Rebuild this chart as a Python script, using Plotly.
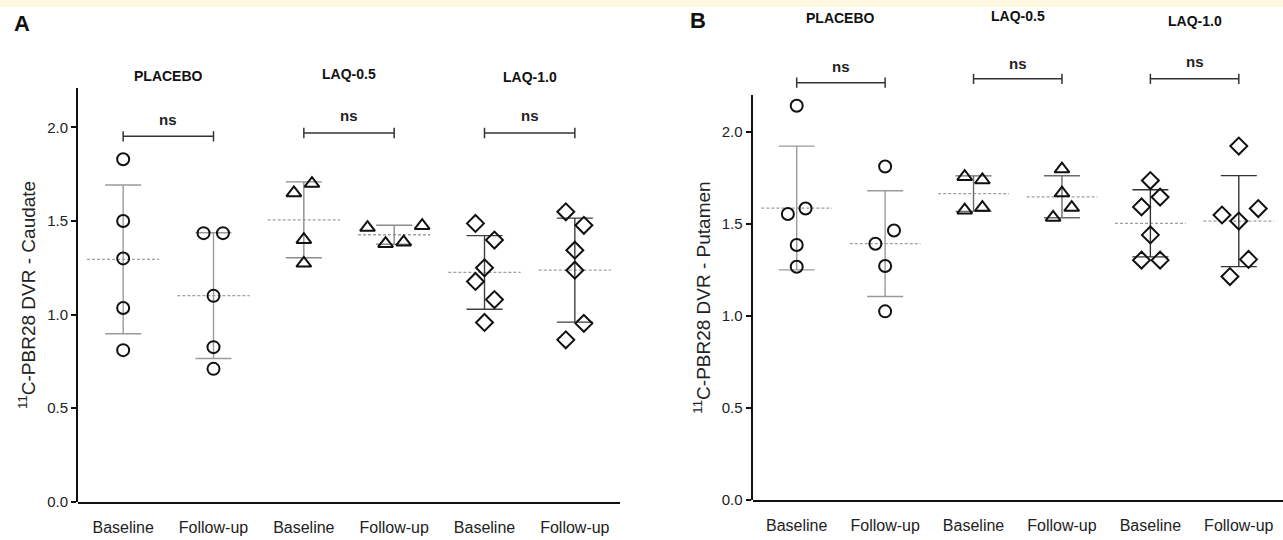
import plotly.graph_objects as go
import numpy as np

# ---------------- data ----------------
groups = ["PLACEBO", "LAQ-0.5", "LAQ-1.0"]
tick_labels = ["Baseline", "Follow-up", "Baseline", "Follow-up", "Baseline", "Follow-up"]
y_ticks = [0.0, 0.5, 1.0, 1.5, 2.0]

# Panel A: caudate DVR
caudate_placebo_baseline = [1.83, 1.50, 1.30, 1.035, 0.81]
caudate_placebo_followup = [1.435, 1.435, 1.10, 0.826, 0.71]
caudate_laq05_baseline = [1.65, 1.70, 1.40, 1.274]
caudate_laq05_followup = [1.465, 1.475, 1.379, 1.387]
caudate_laq10_baseline = [1.487, 1.398, 1.25, 1.177, 1.08, 0.958]
caudate_laq10_followup = [1.549, 1.477, 1.344, 1.237, 0.953, 0.865]

# Panel B: putamen DVR
putamen_placebo_baseline = [2.141, 1.553, 1.583, 1.385, 1.267]
putamen_placebo_followup = [1.811, 1.392, 1.464, 1.271, 1.025]
putamen_laq05_baseline = [1.756, 1.738, 1.574, 1.588]
putamen_laq05_followup = [1.797, 1.667, 1.588, 1.535]
putamen_laq10_baseline = [1.735, 1.645, 1.592, 1.44, 1.303, 1.303]
putamen_laq10_followup = [1.922, 1.583, 1.548, 1.515, 1.307, 1.214]

# ---------------- layout / style (positions kept separate) ----------------
caudate_sets = [caudate_placebo_baseline, caudate_placebo_followup,
                caudate_laq05_baseline, caudate_laq05_followup,
                caudate_laq10_baseline, caudate_laq10_followup]
putamen_sets = [putamen_placebo_baseline, putamen_placebo_followup,
                putamen_laq05_baseline, putamen_laq05_followup,
                putamen_laq10_baseline, putamen_laq10_followup]

jitter_A = [[0, 0, 0, 0, 0], [-0.11, 0.105, 0, 0, 0], [-0.11, 0.09, 0, 0],
            [-0.295, 0.31, -0.095, 0.105], [-0.1, 0.11, 0, -0.1, 0.11, 0],
            [-0.1, 0.1, 0, 0, 0.1, -0.1]]
jitter_B = [[0, -0.1, 0.1, 0, 0], [0, -0.11, 0.1, 0, 0], [-0.1, 0.1, -0.1, 0.1],
            [0, 0, 0.11, -0.1], [0, 0.11, -0.1, 0, -0.1, 0.11],
            [0, 0.22, -0.19, 0, 0.11, -0.1]]

symbols = ["circle-open", "circle-open", "triangle-up-open", "triangle-up-open",
           "diamond-open", "diamond-open"]
sizes = [12, 12, 13, 13, 13, 13]
bar_colors_A = ["#9a9a9a", "#9a9a9a", "#8c8c8c", "#8c8c8c", "#404040", "#404040"]
bar_colors_B = ["#9a9a9a", "#9a9a9a", "#6a6a6a", "#6a6a6a", "#333333", "#333333"]

W, H = 1283, 540
FONT = "Liberation Sans, Arial, sans-serif"

fig = go.Figure()


def add_panel(sets, jitter, bar_colors, xa, ya, spine_ax):
    # invisible trace so that the visible (spine) axis is drawn
    fig.add_trace(go.Scatter(
        x=[0] * len(y_ticks), y=y_ticks, mode="markers", marker=dict(size=1, opacity=0),
        xaxis=xa, yaxis=spine_ax, showlegend=False, hoverinfo="skip"))
    for i, vals in enumerate(sets):
        v = np.array(vals, dtype=float)
        m = v.mean()
        sd = v.std(ddof=1)
        # mean (dashed)
        fig.add_trace(go.Scatter(
            x=[i - 0.4, i + 0.4], y=[m, m], mode="lines",
            line=dict(color="#a0a0a0", width=1.3, dash="3px,2px"),
            xaxis=xa, yaxis=ya, showlegend=False, hoverinfo="skip"))
        # SD bar
        fig.add_trace(go.Scatter(
            x=[i], y=[m], mode="markers", marker=dict(size=1, opacity=0),
            error_y=dict(type="data", array=[sd], visible=True,
                         color=bar_colors[i], thickness=1.4, width=18),
            xaxis=xa, yaxis=ya, showlegend=False, hoverinfo="skip"))
    for i, vals in enumerate(sets):
        fig.add_trace(go.Scatter(
            x=[i + j for j in jitter[i]], y=vals, mode="markers",
            marker=dict(symbol=symbols[i], size=sizes[i], color="#111111",
                        line=dict(color="#111111", width=2)),
            xaxis=xa, yaxis=ya, showlegend=False))


add_panel(caudate_sets, jitter_A, bar_colors_A, "x", "y", "y3")
add_panel(putamen_sets, jitter_B, bar_colors_B, "x2", "y2", "y4")

# axis geometry (pixel-based domains)
A_x = [78 / W, 620 / W]
A_bot_px, A_ppu = 509.3, 190.0
A_rng = 2.45
A_spine = 2.21
A_y = [1 - A_bot_px / H, 1 - (A_bot_px - A_rng * A_ppu) / H]
A_y_spine = [A_y[0], 1 - (A_bot_px - A_spine * A_ppu) / H]

B_x = [752.5 / W, 1.0]
B_bot_px, B_ppu = 507.7, 187.0
B_rng = 2.65
B_spine = 2.20
B_y = [1 - B_bot_px / H, 1 - (B_bot_px - B_rng * B_ppu) / H]
B_y_spine = [B_y[0], 1 - (B_bot_px - B_spine * B_ppu) / H]

xcommon = dict(range=[-0.5, 5.5], tickvals=list(range(6)), ticktext=tick_labels,
               showline=True, linecolor="#111111", linewidth=2, ticks="outside",
               ticklen=10, tickcolor="rgba(0,0,0,0)", showgrid=False, zeroline=False,
               tickfont=dict(family=FONT, size=16, color="#222222"), fixedrange=True)
hidden_y = dict(visible=False, showgrid=False, zeroline=False, fixedrange=True)
spine_y = dict(showline=True, linecolor="#111111", linewidth=2, ticks="outside",
               ticklen=5, tickwidth=1.5, tickcolor="#111111", tickvals=y_ticks,
               tickformat=".1f", showgrid=False, zeroline=False,
               tickfont=dict(family=FONT, size=15, color="#222222"), fixedrange=True)

fig.update_layout(
    xaxis=dict(domain=A_x, anchor="y", **xcommon),
    yaxis=dict(domain=A_y, range=[0, A_rng], anchor="x", **hidden_y),
    xaxis2=dict(domain=B_x, anchor="y2", **xcommon),
    yaxis2=dict(domain=B_y, range=[0, B_rng], anchor="x2", **hidden_y),
    yaxis3=dict(domain=A_y_spine, range=[0, A_spine], anchor="x",
                title=dict(text="<sup>11</sup>C-PBR28 DVR - Caudate",
                           font=dict(family=FONT, size=19, color="#222222"), standoff=6),
                **spine_y),
    yaxis4=dict(domain=B_y_spine, range=[0, B_spine], anchor="x2",
                title=dict(text="<sup>11</sup>C-PBR28 DVR - Putamen",
                           font=dict(family=FONT, size=19, color="#222222"), standoff=6),
                **spine_y),
)

# significance brackets and group titles
bracket_A = [1.952, 1.970, 1.970]
ns_A = [1.985, 2.005, 2.008]
title_A = [2.277, 2.286, 2.270]
bracket_B = [2.266, 2.287, 2.287]
ns_B = [2.298, 2.315, 2.325]
title_B = [2.617, 2.626, 2.599]

shapes = []
annotations = []
for xa, ya, br, ns, tt in [("x", "y", bracket_A, ns_A, title_A),
                           ("x2", "y2", bracket_B, ns_B, title_B)]:
    tick_h = 0.028
    for g in range(3):
        x0, x1 = 2 * g, 2 * g + 1
        ln = dict(color="#333333", width=1.5)
        shapes.append(dict(type="line", xref=xa, yref=ya, x0=x0, x1=x1, y0=br[g], y1=br[g], line=ln))
        for xx in (x0, x1):
            shapes.append(dict(type="line", xref=xa, yref=ya, x0=xx, x1=xx,
                               y0=br[g] - tick_h, y1=br[g] + tick_h, line=ln))
        annotations.append(dict(xref=xa, yref=ya, x=2 * g + 0.5, y=ns[g], text="<b>ns</b>",
                                showarrow=False, yanchor="bottom",
                                font=dict(family=FONT, size=15, color="#222222")))
        annotations.append(dict(xref=xa, yref=ya, x=2 * g + 0.5, y=tt[g], text="<b>" + groups[g] + "</b>",
                                showarrow=False, yanchor="middle",
                                font=dict(family=FONT, size=14, color="#111111")))

# panel letters
annotations.append(dict(xref="paper", yref="paper", x=12 / W, y=1 - 9 / H, text="<b>A</b>",
                        showarrow=False, xanchor="left", yanchor="top",
                        font=dict(family=FONT, size=22, color="#111111")))
annotations.append(dict(xref="paper", yref="paper", x=688 / W, y=1 - 6 / H, text="<b>B</b>",
                        showarrow=False, xanchor="left", yanchor="top",
                        font=dict(family=FONT, size=22, color="#111111")))

# thin yellow band at the very top
shapes.append(dict(type="rect", xref="paper", yref="paper", x0=0, x1=1, y0=1 - 7 / H, y1=1,
                   fillcolor="#FFF8E0", line=dict(width=0), layer="below"))

fig.update_layout(
    width=W, height=H, autosize=False,
    margin=dict(l=0, r=0, t=0, b=0),
    paper_bgcolor="white", plot_bgcolor="rgba(0,0,0,0)",
    shapes=shapes, annotations=annotations,
    font=dict(family=FONT, color="#222222"),
    showlegend=False,
)

fig.write_html("out.html", config={"displayModeBar": False},
               post_script="document.body.style.margin='0';")
